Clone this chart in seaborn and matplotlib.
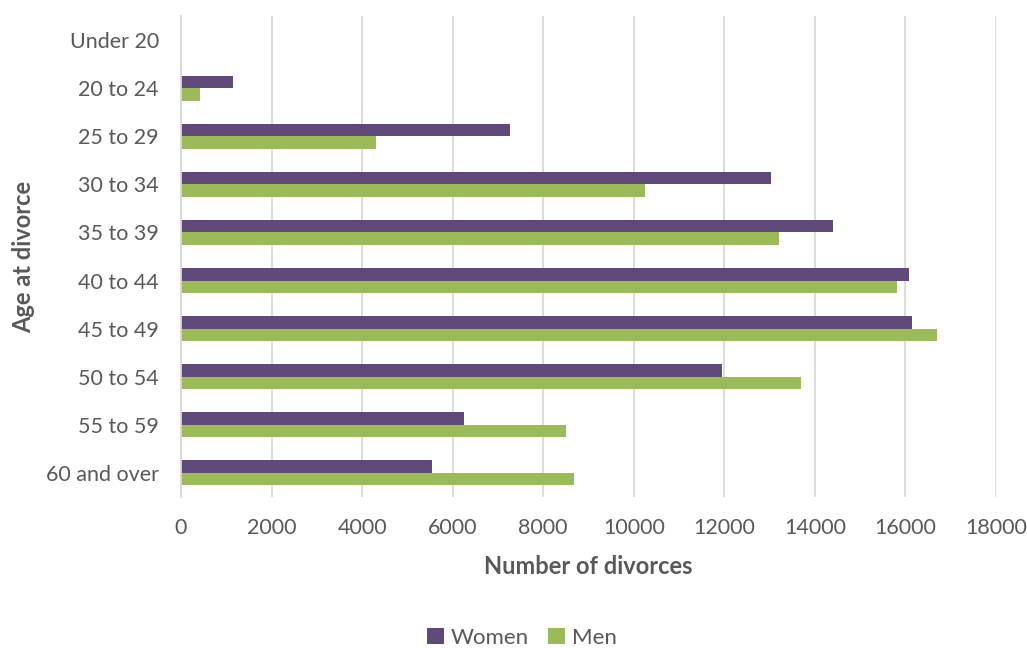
import matplotlib
matplotlib.use("Agg")
import matplotlib.pyplot as plt
import seaborn as sns
import pandas as pd

# Divorces by age group and sex
age_groups = ["Under 20", "20 to 24", "25 to 29", "30 to 34", "35 to 39",
              "40 to 44", "45 to 49", "50 to 54", "55 to 59", "60 and over"]
women = [0, 1155, 7266, 13037, 14408, 16085, 16151, 11941, 6257, 5543]
men = [0, 426, 4300, 10238, 13215, 15820, 16696, 13693, 8503, 8686]
series = ["Women", "Men"]
x_ticks = [0, 2000, 4000, 6000, 8000, 10000, 12000, 14000, 16000, 18000]

colors = {"Women": "#604A7B", "Men": "#9BBB59"}
text_color = "#595959"
grid_color = "#D9D9D9"

df = pd.DataFrame({
    "age": age_groups * 2,
    "count": women + men,
    "sex": ["Women"] * len(age_groups) + ["Men"] * len(age_groups),
})

sns.set_theme(style="white")
plt.rcParams["font.family"] = ["Lato", "DejaVu Sans"]

fig = plt.figure(figsize=(10.27, 6.48), dpi=100)
ax = fig.add_axes([181 / 1027, 1 - 497 / 648, (996 - 181) / 1027, (497 - 16) / 648])

sns.barplot(data=df, x="count", y="age", hue="sex", order=age_groups,
            hue_order=series, palette=colors, orient="h", width=0.52,
            linewidth=0, saturation=1, ax=ax)

ax.set_xlim(0, 18000)
ax.set_ylim(9.5, -0.5)
ax.set_xticks(x_ticks)
ax.set_xticklabels([str(v) for v in x_ticks])
ax.xaxis.grid(True, color=grid_color, linewidth=1.3)
ax.set_axisbelow(True)
for side in ["top", "right", "bottom"]:
    ax.spines[side].set_visible(False)
ax.spines["left"].set_color(grid_color)
ax.spines["left"].set_linewidth(1.3)
ax.tick_params(axis="both", length=0, labelsize=15.5, colors=text_color)
ax.tick_params(axis="x", pad=15)
ax.tick_params(axis="y", pad=16)

ax.set_xlabel("Number of divorces", fontsize=17, fontweight="bold",
              color=text_color, labelpad=12)
ax.set_ylabel("Age at divorce", fontsize=17, fontweight="bold",
              color=text_color, labelpad=8)

handles, labels = ax.get_legend_handles_labels()
ax.legend(handles, labels, loc="center", bbox_to_anchor=(0.418, -0.293),
          ncol=2, frameon=False, fontsize=16, handlelength=0.75,
          handleheight=0.75, handletextpad=0.3, columnspacing=0.9,
          labelcolor=text_color)

fig.savefig("out.png", dpi=100)
